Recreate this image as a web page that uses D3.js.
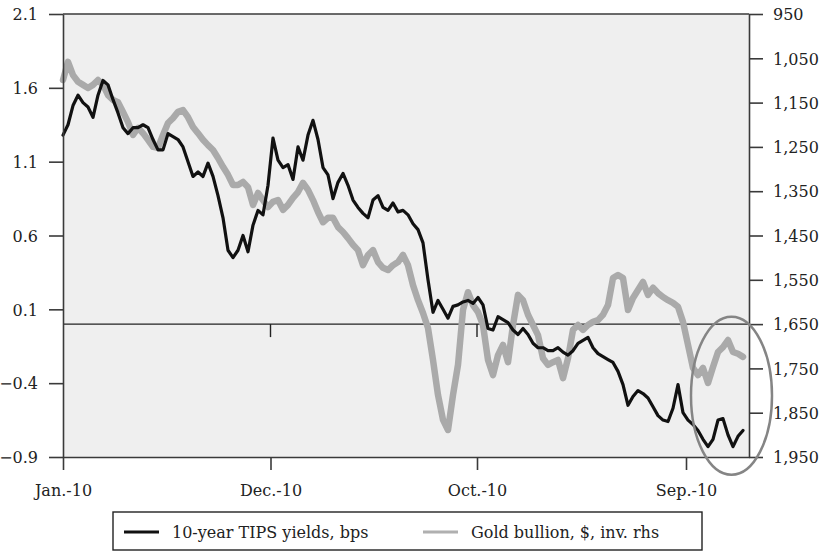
<!DOCTYPE html>
<html>
<head>
<meta charset="utf-8">
<script src="https://cdn.jsdelivr.net/npm/d3@7/dist/d3.min.js"></script>
<style>
  html, body { margin: 0; padding: 0; background: #ffffff; }
  svg { display: block; }
  text { font-family: "DejaVu Serif", "Liberation Serif", serif; fill: #222; }
</style>
</head>
<body>
<svg id="chart" width="824" height="552"></svg>
<script>
// ---------- data ----------
const xLabels = ["Jan.-10", "Dec.-10", "Oct.-10", "Sep.-10"];
const xTickIndex = [0, 41.5, 82.8, 124.6];
const leftTicks = [2.1, 1.6, 1.1, 0.6, 0.1, -0.4, -0.9];
const rightTicks = [950, 1050, 1150, 1250, 1350, 1450, 1550, 1650, 1750, 1850, 1950];
const seriesNames = ["10-year TIPS yields, bps", "Gold bullion, $, inv. rhs"];

const tipsYield = [
  1.28,1.35,1.48,1.55,1.50,1.47,1.40,1.55,1.65,1.62,
  1.52,1.43,1.33,1.29,1.33,1.33,1.35,1.33,1.25,1.18,
  1.18,1.29,1.27,1.25,1.20,1.10,1.00,1.03,1.00,1.09,
  1.00,0.87,0.72,0.50,0.45,0.50,0.60,0.49,0.67,0.77,
  0.74,0.94,1.26,1.11,1.06,1.08,0.98,1.20,1.11,1.28,
  1.38,1.25,1.06,1.01,0.85,0.96,1.02,0.94,0.84,0.79,
  0.75,0.72,0.84,0.87,0.79,0.77,0.82,0.76,0.77,0.74,
  0.68,0.64,0.55,0.30,0.08,0.16,0.10,0.04,0.12,0.13,
  0.15,0.16,0.14,0.18,0.13,-0.03,-0.04,0.05,0.03,0.01,
  -0.04,-0.07,-0.03,-0.07,-0.13,-0.16,-0.16,-0.18,-0.18,-0.16,
  -0.19,-0.21,-0.18,-0.13,-0.11,-0.09,-0.16,-0.20,-0.22,-0.24,
  -0.26,-0.32,-0.41,-0.55,-0.49,-0.45,-0.47,-0.50,-0.56,-0.62,
  -0.65,-0.66,-0.57,-0.41,-0.60,-0.65,-0.68,-0.72,-0.78,-0.83,
  -0.78,-0.65,-0.64,-0.75,-0.83,-0.76,-0.72
];

const goldPrice = [
  1099,1058,1088,1103,1110,1117,1110,1099,1110,1133,
  1144,1149,1171,1194,1223,1207,1219,1234,1250,1252,
  1223,1196,1185,1171,1167,1183,1205,1219,1234,1246,
  1257,1275,1295,1313,1336,1336,1329,1341,1381,1354,
  1370,1386,1374,1370,1392,1381,1365,1352,1331,1347,
  1370,1397,1420,1410,1410,1431,1442,1456,1471,1483,
  1517,1494,1483,1510,1523,1528,1517,1510,1494,1517,
  1562,1596,1625,1659,1731,1810,1866,1889,1810,1742,
  1618,1578,1607,1623,1652,1731,1765,1720,1697,1736,
  1652,1584,1596,1629,1652,1675,1727,1742,1736,1731,
  1772,1727,1663,1652,1663,1652,1645,1641,1629,1607,
  1546,1539,1546,1618,1591,1573,1555,1584,1568,1580,
  1589,1596,1602,1611,1645,1697,1749,1765,1749,1783,
  1747,1713,1702,1686,1713,1717,1724
];

// annotation ellipse bounds (x index, left-axis values)
const highlight = { x0: 125.6, x1: 141.8, top: 0.05, bottom: -1.02 };

// ---------- layout ----------
const svg = d3.select("#chart");
const L = 63, R = 749, T = 14, B = 457;
const axisColor = "#3a3a3a";

const x = d3.scaleLinear().domain([0, 137.2]).range([L, R]);
const yL = d3.scaleLinear().domain([-0.9, 2.1]).range([B, T]);
const yR = d3.scaleLinear().domain([950, 1950]).range([T, B]);

// plot background
svg.append("rect").attr("x", L).attr("y", T).attr("width", R - L).attr("height", B - T)
  .attr("fill", "#efefef");

// top border
svg.append("line").attr("x1", L).attr("x2", R).attr("y1", T).attr("y2", T)
  .attr("stroke", axisColor).attr("stroke-width", 1.6);

// zero line + small ticks
const y0 = yL(0);
svg.append("line").attr("x1", L).attr("x2", R).attr("y1", y0).attr("y2", y0)
  .attr("stroke", "#222").attr("stroke-width", 1.4);
svg.selectAll(".zt").data(xTickIndex.slice(1)).enter().append("line")
  .attr("x1", d => x(d)).attr("x2", d => x(d)).attr("y1", y0).attr("y2", y0 + 13)
  .attr("stroke", "#222").attr("stroke-width", 1.4);

// lines
const lineTips = d3.line().x((d, i) => x(i)).y(d => yL(d));
const lineGold = d3.line().x((d, i) => x(i)).y(d => yR(d));

svg.append("path").datum(goldPrice).attr("d", lineGold)
  .attr("fill", "none").attr("stroke", "#aaaaaa").attr("stroke-width", 6.5)
  .attr("stroke-linejoin", "round").attr("stroke-linecap", "round");
svg.append("path").datum(tipsYield).attr("d", lineTips)
  .attr("fill", "none").attr("stroke", "#111").attr("stroke-width", 3.2)
  .attr("stroke-linejoin", "round").attr("stroke-linecap", "round");

// axes
function styleAxis(g) {
  g.selectAll("path").attr("stroke", axisColor).attr("stroke-width", 1.6);
  g.selectAll("line").attr("stroke", axisColor).attr("stroke-width", 1.6);
  g.selectAll("text").attr("font-family", "DejaVu Serif, Liberation Serif, serif")
    .attr("font-size", 16).attr("fill", "#222");
}

const gLeft = svg.append("g").attr("transform", `translate(${L},0)`)
  .call(d3.axisLeft(yL).tickValues(leftTicks).tickSize(14).tickSizeOuter(0)
    .tickPadding(11).tickFormat(d3.format(".1f")));
styleAxis(gLeft);
gLeft.selectAll("text").attr("dy", "0.36em");

const gRight = svg.append("g").attr("transform", `translate(${R},0)`)
  .call(d3.axisRight(yR).tickValues(rightTicks).tickSize(14).tickSizeOuter(0)
    .tickPadding(10).tickFormat(d3.format(",")));
styleAxis(gRight);
gRight.selectAll("text").attr("dy", "0.36em");

const gBottom = svg.append("g").attr("transform", `translate(0,${B})`)
  .call(d3.axisBottom(x).tickValues(xTickIndex).tickSize(13).tickSizeOuter(0)
    .tickPadding(15).tickFormat((d, i) => xLabels[i]));
styleAxis(gBottom);

// annotation ellipse
svg.append("ellipse")
  .attr("cx", (x(highlight.x0) + x(highlight.x1)) / 2)
  .attr("cy", (yL(highlight.top) + yL(highlight.bottom)) / 2)
  .attr("rx", (x(highlight.x1) - x(highlight.x0)) / 2)
  .attr("ry", (yL(highlight.bottom) - yL(highlight.top)) / 2)
  .attr("fill", "none").attr("stroke", "#858585").attr("stroke-width", 2.5);

// legend
const lg = svg.append("g");
lg.append("rect").attr("x", 113).attr("y", 512).attr("width", 589).attr("height", 38)
  .attr("fill", "#fff").attr("stroke", "#222").attr("stroke-width", 1.4);
const legendItems = [
  { name: seriesNames[0], color: "#111", w: 3, x0: 124 },
  { name: seriesNames[1], color: "#b0b0b0", w: 3, x0: 423 }
];
legendItems.forEach(it => {
  lg.append("line").attr("x1", it.x0).attr("x2", it.x0 + 35).attr("y1", 532).attr("y2", 532)
    .attr("stroke", it.color).attr("stroke-width", it.w);
  lg.append("text").attr("x", it.x0 + 48).attr("y", 538).attr("font-size", 16)
    .text(it.name);
});
</script>
</body>
</html>
